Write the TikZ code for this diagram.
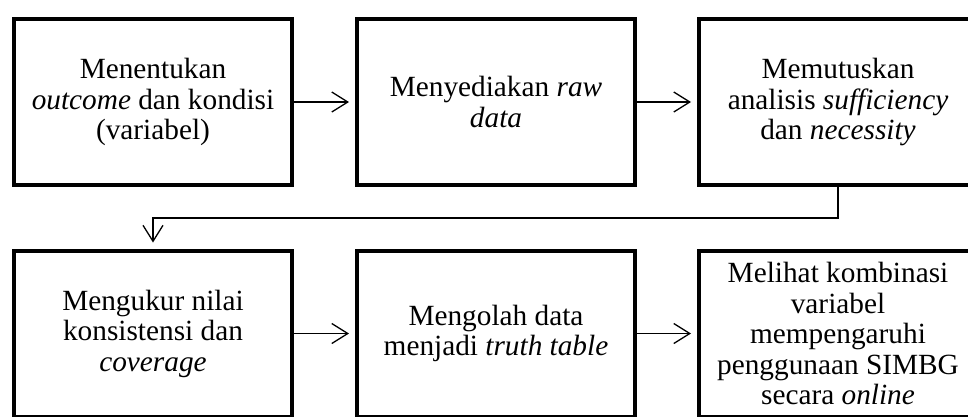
\documentclass[tikz,border=0pt]{standalone}
\usepackage{fontspec}
\setmainfont{Liberation Serif}
\usetikzlibrary{arrows.meta}

\begin{document}
\begin{tikzpicture}[x=1pt, y=-1pt,
    stepbox/.style={draw, line width=4pt, minimum width=278pt, minimum height=166pt,
      align=center, inner sep=0pt, font=\fontsize{29.3}{30.5}\selectfont},
    flow/.style={line width=1.3pt,
      -{Straight Barb[length=16pt, width=20pt, line width=1.3pt]}, shorten >=6pt}]
  \useasboundingbox (0,0) rectangle (968,416);
  \clip (0,0) rectangle (968,416);

  % upper row
  \node[stepbox] (b1) at (153,102) {Menentukan\\\textit{outcome} dan kondisi\\(variabel)};
  \node[stepbox] (b2) at (496,102) {Menyediakan \textit{raw}\\\textit{data}};
  \node[stepbox] (b3) at (838,102) {Memutuskan\\analisis \textit{sufficiency}\\dan \textit{necessity}};

  % lower row
  \node[stepbox] (b4) at (153,333.5) {Mengukur nilai\\konsistensi dan\\\textit{coverage}};
  \node[stepbox] (b5) at (496,333.5) {Mengolah data\\menjadi \textit{truth table}};
  \node[stepbox] (b6) at (838,333.5) {Melihat kombinasi\\variabel\\mempengaruhi\\penggunaan SIMBG\\secara \textit{online}};

  % connectors
  \draw[flow] (b1.east) -- (b2.west);
  \draw[flow] (b2.east) -- (b3.west);
  \draw[flow] (b3.south) -- ++(0,31) -| (b4.north);
  \draw[flow] (b4.east) -- (b5.west);
  \draw[flow] (b5.east) -- (b6.west);
\end{tikzpicture}
\end{document}
